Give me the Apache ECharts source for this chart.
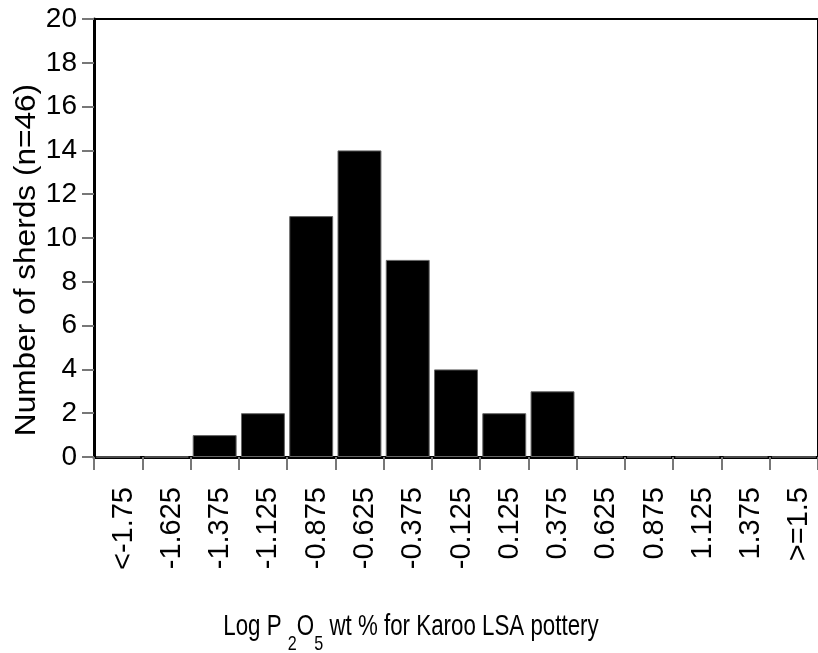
<!DOCTYPE html>
<html><head><meta charset="utf-8">
<script src="https://cdn.jsdelivr.net/npm/echarts@6/dist/echarts.min.js"></script>
<style>html,body{margin:0;padding:0;background:#fff}#c{width:818px;height:653px}</style>
</head><body><div id="c"></div>
<script>
const categories = ['<-1.75','-1.625','-1.375','-1.125','-0.875','-0.625','-0.375','-0.125','0.125','0.375','0.625','0.875','1.125','1.375','>=1.5'];
const counts = [0,0,1,2,11,14,9,4,2,3,0,0,0,0,0];
const yTicks = [0,2,4,6,8,10,12,14,16,18,20];
const yTitle = 'Number of sherds (n=46)';
const font = '"Liberation Sans", Arial, sans-serif';

const chart = echarts.init(document.getElementById('c'), null, {renderer:'canvas'});
chart.setOption({
  animation:false,
  backgroundColor:'#fff',
  grid:{left:94, top:19, width:731, height:438, show:true, borderColor:'#000', borderWidth:2, backgroundColor:'transparent'},
  xAxis:{type:'category', data:categories,
    axisLine:{lineStyle:{color:'#000', width:3}},
    axisTick:{show:true, alignWithLabel:false, length:13, lineStyle:{color:'#777', width:2}},
    axisLabel:{rotate:90, interval:0, margin:30, color:'#000', fontFamily:font, fontSize:29, verticalAlign:'top', lineHeight:11},
    splitLine:{show:false}},
  yAxis:{type:'value', min:yTicks[0], max:yTicks[yTicks.length-1], interval:2,
    axisLine:{show:true, lineStyle:{color:'#000', width:3}},
    axisTick:{show:true, length:12, lineStyle:{color:'#777', width:2}},
    axisLabel:{color:'#000', fontFamily:font, fontSize:28, margin:17},
    splitLine:{show:false}},
  series:[{type:'bar', data:counts, barCategoryGap:'9%',
    itemStyle:{color:'#000', borderColor:'#666', borderWidth:1}}],
  graphic:[
    {type:'text', x:27, y:260, rotation:Math.PI/2, scaleX:1.09,
      style:{text:yTitle, fontFamily:font, fontSize:29, fill:'#000', align:'center', verticalAlign:'middle'}},
    {type:'text', x:411, y:627, scaleX:0.77,
      style:{text:'Log P {sub|2}O{sub|5} wt % for Karoo LSA pottery', fontFamily:font, fontSize:29, fill:'#000', align:'center', verticalAlign:'middle',
        rich:{sub:{fontFamily:font, fontSize:21, fill:'#000', padding:[34,0,0,0]}}}}
  ]
});
</script></body></html>
